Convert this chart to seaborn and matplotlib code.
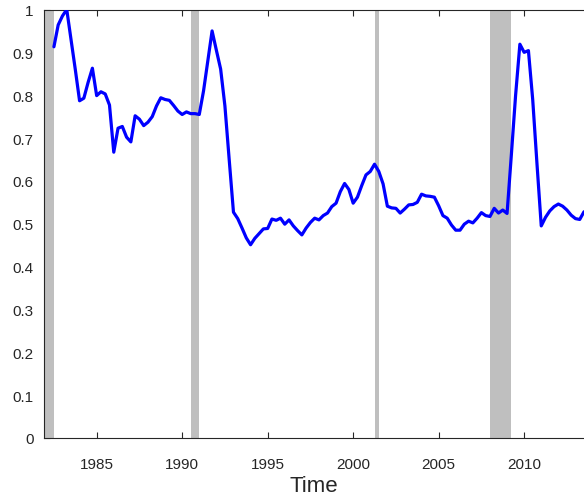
import numpy as np
import pandas as pd
import matplotlib
matplotlib.use("Agg")
import matplotlib.pyplot as plt
import seaborn as sns

# quarterly series, 1982Q3 .. 2013Q3
start_year = 1982.5
end_year = 2013.5
values = [
    0.913, 0.964, 0.985, 1.000, 0.930, 0.860, 0.787, 0.793, 0.830, 0.863,
    0.799, 0.808, 0.803, 0.777, 0.667, 0.723, 0.727, 0.702, 0.691, 0.752,
    0.744, 0.729, 0.737, 0.750, 0.775, 0.794, 0.790, 0.788, 0.776, 0.763,
    0.755, 0.761, 0.757, 0.757, 0.755, 0.810, 0.880, 0.950, 0.905, 0.861,
    0.775, 0.650, 0.527, 0.512, 0.490, 0.467, 0.451, 0.466, 0.477, 0.488,
    0.489, 0.511, 0.508, 0.513, 0.499, 0.509, 0.495, 0.484, 0.474, 0.490,
    0.503, 0.513, 0.509, 0.519, 0.525, 0.540, 0.548, 0.575, 0.594, 0.580,
    0.548, 0.562, 0.589, 0.614, 0.622, 0.639, 0.622, 0.593, 0.541, 0.537,
    0.536, 0.525, 0.534, 0.544, 0.545, 0.550, 0.569, 0.565, 0.564, 0.562,
    0.542, 0.519, 0.513, 0.497, 0.485, 0.485, 0.499, 0.506, 0.502, 0.513,
    0.526, 0.519, 0.517, 0.536, 0.525, 0.532, 0.524, 0.660, 0.800, 0.919,
    0.900, 0.904, 0.790, 0.640, 0.495, 0.515, 0.530, 0.540, 0.546, 0.541,
    0.532, 0.520, 0.512, 0.510, 0.528,
]
years = np.arange(start_year, end_year + 0.01, 0.25)

# recession bands (start, end)
recessions = [(1981.5, 1982.5), (1990.5, 1991.0), (2001.25, 2001.5), (2008.0, 2009.25)]

x_ticks = [1985, 1990, 1995, 2000, 2005, 2010]
y_ticks = [0, 0.1, 0.2, 0.3, 0.4, 0.5, 0.6, 0.7, 0.8, 0.9, 1]
y_tick_labels = ["0", "0.1", "0.2", "0.3", "0.4", "0.5", "0.6", "0.7", "0.8", "0.9", "1"]

df = pd.DataFrame({"Time": years, "value": values})

sns.set_style("ticks")
plt.rcParams["font.family"] = ["Liberation Sans", "DejaVu Sans"]

fig = plt.figure(figsize=(5.84, 5.02), dpi=100)
ax = fig.add_axes([44 / 584, 63 / 502, 540 / 584, 428.5 / 502])

for a, b in recessions:
    ax.axvspan(a, b, color="#bfbfbf", lw=0, zorder=1)

sns.lineplot(x="Time", y="value", data=df, color="#0000ff", linewidth=2.3, ax=ax, zorder=3)

ax.set_xlim(1981.92, 2013.5)
ax.set_ylim(0, 1)
ax.set_xticks(x_ticks)
ax.set_xticklabels([str(t) for t in x_ticks])
ax.set_yticks(y_ticks)
ax.set_yticklabels(y_tick_labels)

ax.tick_params(axis="both", direction="in", length=4, width=0.8, labelsize=11,
               colors="#262626", labelcolor="#262626")
ax.tick_params(axis="x", top=True, pad=13.5)
ax.tick_params(axis="y", pad=7.5)

for side in ["left", "bottom", "top"]:
    ax.spines[side].set_visible(True)
    ax.spines[side].set_color("#262626")
    ax.spines[side].set_linewidth(0.8)
ax.spines["right"].set_visible(False)

ax.set_xlabel("Time", fontsize=16, color="#262626", labelpad=3)
ax.set_ylabel("")

fig.savefig("out.png", dpi=100)
